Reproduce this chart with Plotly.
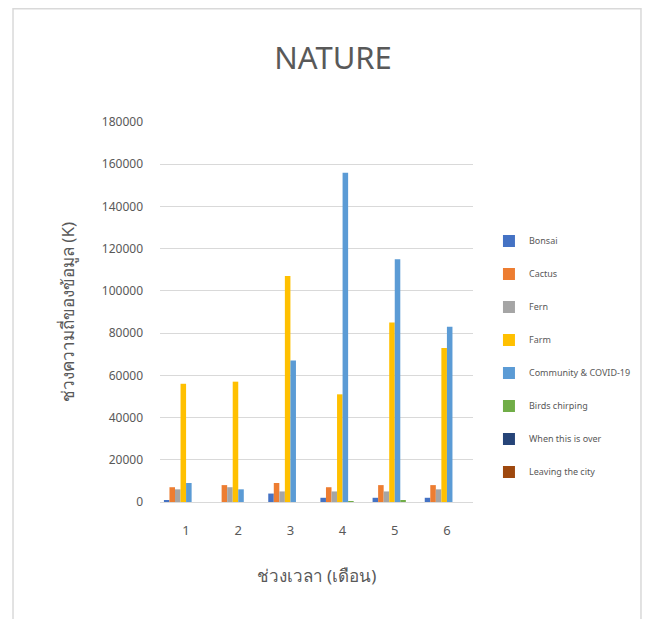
import plotly.graph_objects as go

months = ["1", "2", "3", "4", "5", "6"]
series_names = ["Bonsai", "Cactus", "Fern", "Farm", "Community & COVID-19",
                "Birds chirping", "When this is over", "Leaving the city"]
bonsai = [500, 0, 4000, 2000, 2000, 2000]
cactus = [7000, 8000, 9000, 7000, 8000, 8000]
fern = [6000, 7000, 5000, 5000, 5000, 6000]
farm = [56000, 57000, 107000, 51000, 85000, 73000]
community = [9000, 6000, 67000, 156000, 115000, 83000]
birds = [0, 0, 0, 300, 700, 0]
when_over = [0, 0, 0, 0, 0, 0]
leaving = [0, 0, 0, 0, 0, 0]
y_ticks = [0, 20000, 40000, 60000, 80000, 100000, 120000, 140000, 160000, 180000]

series_values = [bonsai, cactus, fern, farm, community, birds, when_over, leaving]
colors = ["#4472C4", "#ED7D31", "#A5A5A5", "#FFC000", "#5B9BD5",
          "#70AD47", "#264478", "#9E480E"]

FONT = "Noto Sans, Liberation Sans, sans-serif"
fig = go.Figure()
for i, (name, vals) in enumerate(zip(series_names, series_values)):
    fig.add_trace(go.Bar(x=months, y=vals, name=name, marker_color=colors[i],
                         marker_line_width=0, legendgroup=f"g{i}"))

fig.update_layout(
    width=654, height=619,
    margin=dict(l=152, r=189, t=114, b=125, autoexpand=False),
    paper_bgcolor="white", plot_bgcolor="white",
    barmode="group", bargap=0.15, bargroupgap=0,
    font=dict(family=FONT, color="#595959"),
    title=dict(text="NATURE", x=0.497, xanchor="center", y=0.919, yanchor="middle",
               font=dict(size=31, color="#595959", family=FONT)),
    xaxis=dict(showgrid=False, showline=True, linecolor="#D9D9D9", linewidth=1,
               ticks="", tickfont=dict(size=13, color="#595959"), ticklabelstandoff=16,
               automargin=False,
               title=dict(text="ช่วงเวลา (เดือน)", font=dict(size=17, color="#595959"),
                          standoff=32)),
    yaxis=dict(range=[0, 180000], tickvals=y_ticks, tickformat="d", showgrid=True,
               gridcolor="#D9D9D9", gridwidth=1, zeroline=False, showline=False,
               automargin=False,
               tickfont=dict(size=12, color="#595959"), ticklabelstandoff=16,
               title=dict(text="ช่วงความถี่ของข้อมูล (K)", font=dict(size=17, color="#595959"),
                          standoff=22)),
    legend=dict(x=1.051, xanchor="left", y=0.7253, yanchor="top",
                font=dict(size=9, color="#595959"), tracegroupgap=14,
                itemwidth=30, bgcolor="rgba(0,0,0,0)"),
    shapes=[dict(type="rect", xref="paper", yref="paper", x0=-0.4696, x1=1.5367,
                 y0=-0.33, y1=1.298, line=dict(color="#D9D9D9", width=1.5),
                 fillcolor="rgba(0,0,0,0)", layer="below")],
)

fig.write_html("out.html")
